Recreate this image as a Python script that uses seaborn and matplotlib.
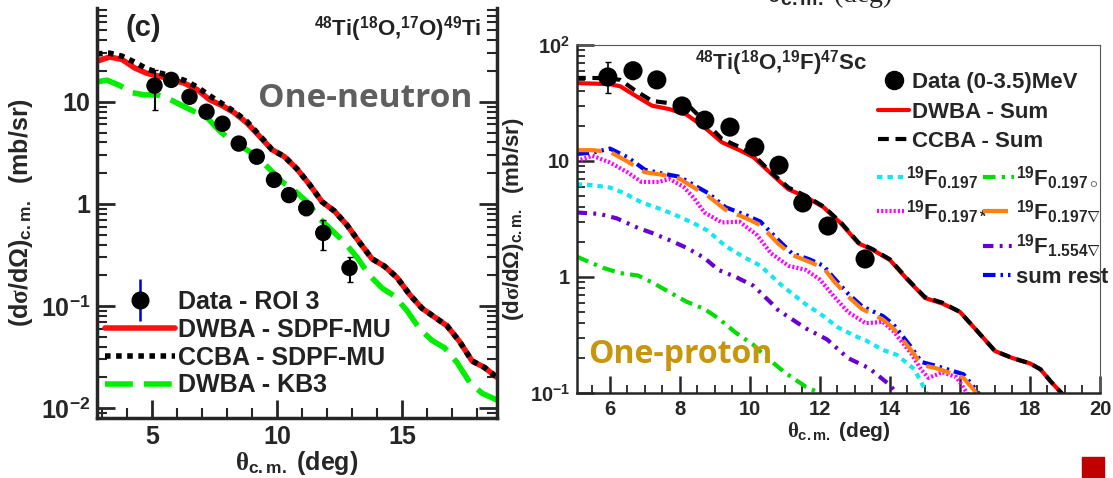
import matplotlib
matplotlib.use('Agg')
import matplotlib.pyplot as plt
import seaborn as sns
from matplotlib.lines import Line2D
from matplotlib.patches import Rectangle
from matplotlib.legend_handler import HandlerTuple
from matplotlib.ticker import MultipleLocator, LogLocator, NullFormatter

# ---------------- left panel: 48Ti(18O,17O)49Ti, one-neutron ----------------
n_data_x = [5.1, 5.77, 6.5, 7.18, 7.82, 8.47, 9.19, 9.88, 10.48, 11.17, 11.85, 12.9]
n_data_y = [14.4, 16.4, 11.2, 8.0, 6.1, 3.9, 2.9, 1.72, 1.22, 0.91, 0.52, 0.236]
n_err_lo = [6.0, 0, 0, 0, 0, 0, 0, 0, 0, 0.13, 0.165, 0.064]
n_err_hi = [6.0, 0, 0, 0, 0, 0, 0, 0, 0, 0.13, 0.18, 0.064]

n_theory_x = [2.8, 3.3, 3.8, 4.3, 4.8, 5.3, 5.8, 6.3, 6.8, 7.3, 7.8, 8.3, 8.8, 9.3, 9.8,
              10.3, 10.8, 11.3, 11.8, 12.3, 12.8, 13.3, 13.8, 14.3, 14.8, 15.3, 15.8,
              16.3, 16.8, 17.3, 17.8, 18.3, 18.8]
n_dwba_sdpf = [25, 27.5, 26, 21.5, 19, 17.8, 16.5, 15.2, 13.2, 10.5, 9.2, 7.8, 6.2, 4.6, 3.4,
               2.9, 2.2, 1.55, 1.05, 0.85, 0.62, 0.42, 0.29, 0.245, 0.19, 0.13, 0.095,
               0.078, 0.064, 0.045, 0.029, 0.025, 0.020]
n_ccba_sdpf = [29.5, 30, 28, 24.5, 21, 19.2, 17.8, 16.2, 14, 11.5, 9.6, 8.0, 6.4, 4.7, 3.4,
               2.9, 2.2, 1.55, 1.05, 0.85, 0.62, 0.42, 0.29, 0.245, 0.19, 0.13, 0.095,
               0.078, 0.064, 0.045, 0.029, 0.025, 0.020]
n_kb3_x = [2.8, 3.2, 3.7, 4.2, 4.7, 5.2, 5.7, 6.2, 6.7, 7.2, 7.7, 8.2, 8.7, 9.2, 9.7, 10.2,
           10.7, 11.2, 11.7, 12.2, 12.7, 13.2, 13.7, 14.2, 14.7, 15.2, 15.7, 16.2, 16.7,
           17.2, 17.7, 18.2, 18.8]
n_dwba_kb3 = [15.7, 16.3, 14.5, 12.3, 11.7, 11.7, 10.6, 9.2, 8.0, 7.0, 5.2, 4.1, 3.5, 2.9,
              2.2, 1.65, 1.35, 1.05, 0.72, 0.55, 0.42, 0.3, 0.2, 0.15, 0.125, 0.09, 0.06,
              0.046, 0.039, 0.028, 0.018, 0.014, 0.012]

# ---------------- right panel: 48Ti(18O,19F)47Sc, one-proton ----------------
p_data_x = [5.94, 6.66, 7.34, 8.06, 8.71, 9.43, 10.14, 10.83, 11.51, 12.23, 13.29]
p_data_y = [53, 60, 50, 29.8, 22.5, 19.6, 13.2, 9.2, 4.35, 2.75, 1.43]
p_err_lo = [14.4, 0, 0, 0, 0, 0, 0, 0, 0, 0, 0]
p_err_hi = [18.0, 0, 0, 0, 0, 0, 0, 0, 0, 0, 0]

p_sum_x = [5.0, 5.5, 6.0, 6.3, 6.7, 7.2, 7.7, 8.2, 8.7, 9.2, 9.7, 10.1, 10.6, 11.1, 11.6,
           12.1, 12.6, 13.1, 13.5, 14.0, 14.5, 15.0, 15.5, 16.0, 16.5, 17.0, 17.5, 18.0,
           18.3, 18.6, 18.9, 19.1]
p_dwba_sum = [47, 46.5, 46, 44, 37, 30, 28, 25, 19.5, 14.5, 12.4, 10.8, 7.8, 5.7, 4.9,
              4.0, 2.9, 1.95, 1.72, 1.4, 0.95, 0.66, 0.59, 0.5, 0.34, 0.23, 0.2, 0.18,
              0.16, 0.125, 0.1, 0.085]
p_ccba_sum = [52, 52, 51.5, 50, 41, 33, 31.5, 31, 22, 15.5, 13.2, 11.3, 8.0, 5.9, 5.0,
              4.05, 2.95, 1.98, 1.74, 1.42, 0.96, 0.67, 0.6, 0.5, 0.34, 0.23, 0.2, 0.18,
              0.16, 0.125, 0.1, 0.085]

f0197_x = [5.05, 5.5, 6.0, 6.4, 6.9, 7.4, 7.8, 8.4, 8.8, 9.3, 9.8, 10.3, 10.9, 11.6, 12.1,
           12.5, 13.0, 13.3, 13.8, 14.2, 14.7, 15.05, 15.3]
f0197_y = [6.3, 6.2, 5.9, 5.3, 4.4, 3.9, 3.5, 2.9, 2.5, 1.85, 1.5, 1.25, 0.85, 0.58, 0.46,
           0.37, 0.31, 0.285, 0.235, 0.213, 0.16, 0.1, 0.08]
f0197o_x = [5.05, 5.8, 6.3, 6.8, 7.2, 7.7, 8.2, 8.7, 9.1, 9.6, 10.1, 10.5, 11.0, 11.6, 12.0,
            12.3]
f0197o_y = [1.5, 1.2, 1.08, 1.03, 0.9, 0.74, 0.61, 0.53, 0.44, 0.33, 0.26, 0.2, 0.15, 0.113,
            0.1, 0.085]
f0197s_x = [5.05, 5.5, 6.0, 6.5, 6.9, 7.4, 7.7, 8.1, 8.4, 8.7, 9.2, 9.7, 10.2, 10.6, 11.1,
            11.6, 12.0, 12.4, 12.8, 13.3, 13.8, 14.1, 14.6, 14.9, 15.1, 15.5, 15.9, 16.2, 16.4]
f0197s_y = [10.0, 11.1, 9.7, 8.0, 6.6, 6.6, 7.0, 6.0, 4.8, 3.6, 2.95, 3.0, 2.3, 1.6, 1.25,
            1.15, 0.95, 0.68, 0.5, 0.4, 0.41, 0.34, 0.22, 0.158, 0.135, 0.151, 0.137, 0.1,
            0.085]
f0197v_x = [5.05, 5.5, 6.0, 6.5, 7.0, 7.5, 8.0, 8.4, 8.8, 9.3, 9.9, 10.3, 10.8, 11.2, 11.7,
            12.1, 12.4, 12.8, 13.2, 13.8, 14.1, 14.6, 14.9, 15.3, 15.7, 16.1, 16.4, 16.6]
f0197v_y = [12.4, 12.4, 12.0, 9.9, 8.0, 7.6, 7.0, 5.9, 5.0, 3.8, 3.2, 2.8, 1.95, 1.55, 1.35,
            1.2, 0.92, 0.68, 0.53, 0.43, 0.36, 0.235, 0.175, 0.164, 0.15, 0.135, 0.106,
            0.085]
f1554v_x = [5.05, 5.7, 6.2, 6.8, 7.2, 7.7, 8.2, 8.7, 9.1, 9.6, 10.1, 10.6, 10.8, 11.6, 12.2,
            12.8, 13.4, 14.0, 14.3]
f1554v_y = [3.6, 3.5, 3.2, 2.65, 2.4, 2.08, 1.78, 1.46, 1.15, 1.0, 0.84, 0.6, 0.52, 0.36,
            0.29, 0.2, 0.164, 0.117, 0.09]
sumrest_x = [5.05, 5.5, 6.0, 6.5, 7.0, 7.5, 8.0, 8.4, 8.8, 9.3, 9.9, 10.3, 10.8, 11.2, 11.7,
             12.1, 12.4, 12.8, 13.2, 13.8, 14.1, 14.6, 14.9, 15.3, 15.7, 16.1, 16.4, 16.7]
sumrest_y = [11.5, 11.8, 12.8, 10.8, 8.4, 7.8, 7.3, 6.2, 5.3, 4.0, 3.4, 3.0, 2.1, 1.6, 1.42,
             1.25, 0.98, 0.72, 0.56, 0.46, 0.39, 0.25, 0.185, 0.172, 0.158, 0.145, 0.112,
             0.085]

sns.set_style('ticks')
plt.rcParams['font.family'] = ['Liberation Sans', 'DejaVu Sans']
plt.rcParams['font.weight'] = 'bold'
plt.rcParams['axes.labelweight'] = 'bold'
plt.rcParams['mathtext.fontset'] = 'custom'
plt.rcParams['mathtext.rm'] = 'Liberation Sans:bold'
plt.rcParams['mathtext.bf'] = 'Liberation Sans:bold'
plt.rcParams['mathtext.it'] = 'Liberation Serif'

fig = plt.figure(figsize=(11.13, 4.78), dpi=100)
axL = fig.add_axes([97 / 1113, 60 / 478, 400 / 1113, 410 / 478])
axR = fig.add_axes([577 / 1113, 85 / 478, 523 / 1113, 348 / 478])


def curve(ax, x, y, color, lw, ls, label):
    sns.lineplot(x=x, y=y, ax=ax, color=color, linewidth=lw, linestyle=ls,
                 estimator=None, sort=False, label=label, legend=False)
    return ax.lines[-1]


# ---- left panel ----
axL.set_yscale('log')
l_red = curve(axL, n_theory_x, n_dwba_sdpf, '#ff1010', 4, '-', 'DWBA - SDPF-MU')
l_grn = curve(axL, n_kb3_x, n_dwba_kb3, '#00ee00', 4, (0, (5, 2)), 'DWBA - KB3')
l_blk = curve(axL, n_theory_x, n_ccba_sdpf, 'black', 4, (0, (1, 1)), 'CCBA - SDPF-MU')
axL.errorbar(n_data_x, n_data_y, yerr=[n_err_lo, n_err_hi], fmt='none', ecolor='black',
             elinewidth=1.5, capsize=2, zorder=5)
sns.scatterplot(x=n_data_x, y=n_data_y, ax=axL, color='black', s=140, edgecolor='none',
                zorder=6, legend=False)

axL.set_xlim(2.8, 18.8)
axL.set_ylim(0.008, 83)
axL.set_xticks([5, 10, 15])
axL.xaxis.set_minor_locator(MultipleLocator(1))
axL.set_yticks([0.01, 0.1, 1, 10], labels=[r'$10^{-2}$', r'$10^{-1}$', '1', '10'])
axL.yaxis.set_minor_locator(LogLocator(base=10, subs=range(2, 10)))
axL.yaxis.set_minor_formatter(NullFormatter())
axL.tick_params(which='major', direction='in', length=13, width=2, labelsize=18,
                right=True, top=False, pad=5)
axL.tick_params(which='minor', direction='in', length=7, width=1.5, right=True, top=False)
axL.spines['top'].set_visible(False)
for s in ['left', 'bottom', 'right']:
    axL.spines[s].set_linewidth(2.5)
axL.set_xlabel(r'$\theta_{\rm c.m.}$ (deg)', fontsize=18, labelpad=0)
axL.set_ylabel(r'(d$\sigma$/d$\Omega$)$_{\rm c.m.}$  (mb/sr)', fontsize=18, labelpad=4)

axL.text(0.115, 0.952, '(c)', transform=axL.transAxes, fontsize=21, ha='center',
         va='center', color='#222222')
axL.text(0.96, 0.948, r'$^{48}$Ti($^{18}$O,$^{17}$O)$^{49}$Ti', transform=axL.transAxes,
         fontsize=16, ha='right', va='center', color='#222222')
axL.text(0.67, 0.78, 'One-neutron', transform=axL.transAxes, fontsize=24, ha='center',
         va='center', color='#5f5f5f', family=['Open Sans', 'DejaVu Sans'])

data_h = (Line2D([], [], color='#0000cc', marker='|', markersize=30, markeredgewidth=1.8,
                 ls='none'),
          Line2D([], [], color='black', marker='o', markersize=12, ls='none'))
axL.legend([data_h, l_red, l_blk, l_grn],
           ['Data - ROI 3', 'DWBA - SDPF-MU', 'CCBA - SDPF-MU', 'DWBA - KB3'],
           handler_map={tuple: HandlerTuple(ndivide=1)}, loc='upper left',
           bbox_to_anchor=(0.02, 0.312), frameon=False, fontsize=18, handlelength=2.8,
           handletextpad=0.1, borderpad=0, borderaxespad=0, labelspacing=0.15,
           labelcolor='#222222')

# ---- right panel ----
axR.set_yscale('log')
r_cyan = curve(axR, f0197_x, f0197_y, '#11e8f0', 3, (0, (1.3, 1.2)), r'$^{19}$F$_{0.197}$')
r_grn = curve(axR, f0197o_x, f0197o_y, '#00dd00', 3, (0, (3, 1.5, 0.8, 1.5)),
              r'$^{19}$F$_{0.197\circ}$')
r_mag = curve(axR, f0197s_x, f0197s_y, '#ff00ff', 3, (0, (0.5, 0.5)),
              r'$^{19}$F$_{0.197*}$')
r_pur = curve(axR, f1554v_x, f1554v_y, '#6a00d0', 3, (0, (2.5, 1.5, 0.7, 1.5, 0.7, 1.5)),
              r'$^{19}$F$_{1.554\nabla}$')
r_blue = curve(axR, sumrest_x, sumrest_y, '#0000ff', 3, (0, (3, 1.2, 0.6, 1.2, 0.6, 1.2)),
               'sum rest')
r_org = curve(axR, f0197v_x, f0197v_y, '#ff7f10', 3, (0, (6, 2.5)),
              r'$^{19}$F$_{0.197\nabla}$')
r_red = curve(axR, p_sum_x, p_dwba_sum, '#ff0000', 3, '-', 'DWBA - Sum')
r_blk = curve(axR, p_sum_x, p_ccba_sum, 'black', 3, (0, (2.6, 1.6)), 'CCBA - Sum')
axR.errorbar(p_data_x, p_data_y, yerr=[p_err_lo, p_err_hi], fmt='none', ecolor='black',
             elinewidth=1.2, capsize=2, zorder=5)
sns.scatterplot(x=p_data_x, y=p_data_y, ax=axR, color='black', s=190, edgecolor='none',
                zorder=6, legend=False)

axR.set_xlim(5.06, 20)
axR.set_ylim(0.1, 100)
axR.set_xticks(range(6, 21, 2))
axR.xaxis.set_minor_locator(MultipleLocator(0.5))
axR.set_yticks([0.1, 1, 10, 100], labels=[r'$10^{-1}$', '1', '10', r'$10^{2}$'])
axR.yaxis.set_minor_locator(LogLocator(base=10, subs=range(2, 10)))
axR.yaxis.set_minor_formatter(NullFormatter())
axR.tick_params(which='major', direction='in', length=12, width=1.8, labelsize=14.5, pad=5)
axR.tick_params(which='minor', direction='in', length=6, width=1.3)
for s in ['left', 'bottom']:
    axR.spines[s].set_linewidth(1.8)
for s in ['top', 'right']:
    axR.spines[s].set_linewidth(0.8)
    axR.spines[s].set_color('#555555')
axR.set_xlabel(r'$\theta_{\rm c.m.}$ (deg)', fontsize=15, labelpad=1)
axR.set_ylabel(r'(d$\sigma$/d$\Omega$)$_{\rm c.m.}$  (mb/sr)', fontsize=16, labelpad=3)

axR.text(0.39, 0.948, r'$^{48}$Ti($^{18}$O,$^{19}$F)$^{47}$Sc', transform=axR.transAxes,
         fontsize=16, ha='center', va='center')
axR.text(0.022, 0.112, 'One-proton', transform=axR.transAxes, fontsize=23, ha='left',
         va='center', color='#c8960c', family=['Open Sans', 'DejaVu Sans'])

dot_h = Line2D([], [], color='black', marker='o', markersize=13, ls='none')
leg1 = axR.legend([dot_h, r_red, r_blk], ['Data (0-3.5)MeV', 'DWBA - Sum', 'CCBA - Sum'],
                  loc='upper left', bbox_to_anchor=(0.5755, 0.922), frameon=False,
                  fontsize=16, handlelength=1.4, handletextpad=0.15, borderpad=0,
                  borderaxespad=0, labelspacing=0.38)
axR.add_artist(leg1)
# the two columns of state contributions, placed separately
leg2 = axR.legend([r_cyan, r_mag], [r'$^{19}$F$_{0.197}$', r'$^{19}$F$_{0.197*}$'],
                  loc='upper left', bbox_to_anchor=(0.5736, 0.658), frameon=False,
                  fontsize=16, handlelength=1.2, handletextpad=0.1, borderpad=0,
                  borderaxespad=0, labelspacing=0.3)
axR.add_artist(leg2)
axR.legend([r_grn, r_org, r_pur, r_blue],
           [r'$^{19}$F$_{0.197\circ}$', r'$^{19}$F$_{0.197\nabla}$',
            r'$^{19}$F$_{1.554\nabla}$', 'sum rest'],
           loc='upper left', bbox_to_anchor=(0.776, 0.658), frameon=False,
           fontsize=16, handlelength=1.4, handletextpad=0.1, borderpad=0,
           borderaxespad=0, labelspacing=0.3)

# cut-off axis title of the panel above and the page marker
fig.text(0.745, 1 - 1.5 / 478, r'$\theta_{\rm c.m.}$ (deg)', fontsize=20, ha='center',
         va='baseline', family=['Liberation Serif'], fontweight='normal')
fig.add_artist(Rectangle((1082 / 1113, 0), 22 / 1113, 21 / 478, transform=fig.transFigure,
                         color='#c00000'))

fig.savefig('out.png', dpi=100)
